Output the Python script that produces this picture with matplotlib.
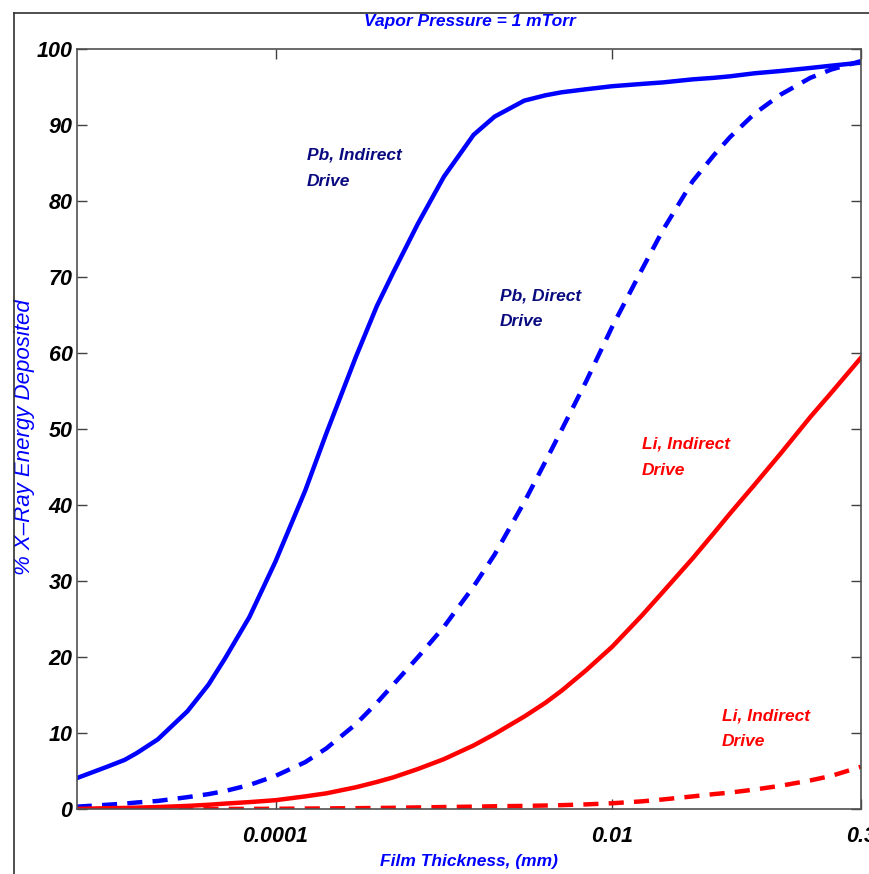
import matplotlib
matplotlib.use("Agg")
import matplotlib.pyplot as plt
from matplotlib.lines import Line2D
from matplotlib.ticker import NullLocator
from matplotlib import font_manager

plt.rcParams['font.family'] = ['Liberation Sans', 'DejaVu Sans']

# condensed face for the heading, if the system has it
names = {f.name for f in font_manager.fontManager.ttflist}
if 'Liberation Sans Narrow' in names:
    head_family, head_size = ['Liberation Sans Narrow', 'Liberation Sans'], 14.5
else:
    head_family, head_size = ['Liberation Sans', 'DejaVu Sans'], 12.5

# ---- data -------------------------------------------------------------
# film thickness (mm)
thickness = [6.6e-6, 1e-5, 1.27e-5, 1.5e-5, 2e-5, 3e-5, 4e-5, 5e-5, 7e-5,
             1e-4, 1.5e-4, 2e-4, 3e-4, 4e-4, 5e-4, 7e-4,
             1e-3, 1.5e-3, 2e-3, 3e-3, 4e-3, 5e-3, 7e-3,
             1e-2, 1.5e-2, 2e-2, 3e-2, 4e-2, 5e-2, 7e-2,
             0.1, 0.15, 0.2, 0.3]

# % of x-ray energy deposited in the film
pb_indirect = [4.1, 5.6, 6.5, 7.4, 9.2, 12.9, 16.4, 19.8, 25.3,
               32.6, 41.9, 49.4, 59.5, 66.2, 70.6, 77.0,
               83.2, 88.7, 91.1, 93.2, 93.9, 94.3, 94.7,
               95.1, 95.4, 95.6, 96.0, 96.2, 96.4, 96.8,
               97.1, 97.5, 97.8, 98.2]
pb_direct = [0.35, 0.6, 0.75, 0.9, 1.1, 1.6, 2.0, 2.4, 3.2,
             4.4, 6.2, 8.0, 11.2, 14.0, 16.4, 20.0,
             24.0, 29.3, 33.5, 40.4, 45.7, 49.9, 56.3,
             63.5, 71.0, 76.2, 82.6, 86.0, 88.4, 91.5,
             94.0, 96.2, 97.3, 98.4]
li_indirect = [0.05, 0.15, 0.18, 0.22, 0.3, 0.45, 0.6, 0.75, 0.95,
               1.2, 1.7, 2.1, 2.9, 3.6, 4.2, 5.3,
               6.6, 8.4, 9.9, 12.2, 14.0, 15.6, 18.3,
               21.4, 25.5, 28.6, 33.0, 36.3, 38.9, 42.7,
               46.8, 51.6, 54.8, 59.4]
li_dashed = [0.0, 0.0, 0.0, 0.01, 0.02, 0.03, 0.04, 0.05, 0.06,
             0.07, 0.1, 0.12, 0.15, 0.18, 0.2, 0.25,
             0.3, 0.35, 0.4, 0.45, 0.5, 0.55, 0.65,
             0.8, 1.05, 1.3, 1.7, 2.0, 2.2, 2.6,
             3.1, 3.8, 4.4, 5.6]

x_ticks = [1e-4, 1e-2, 0.3]
x_tick_labels = ["0.0001", "0.01", "0.3"]
y_ticks = list(range(0, 101, 10))

# ---- figure -----------------------------------------------------------
fig = plt.figure(figsize=(8.7, 8.74), dpi=100)
ax = fig.add_axes([0.0882, 0.074, 0.9015, 0.8700])

dash = (3.4, 2.3)
ax.plot(thickness, pb_indirect, color='#0000ff', lw=3.2, solid_joinstyle='round')
ax.plot(thickness, pb_direct, color='#0000ff', lw=3.2, dashes=dash)
ax.plot(thickness, li_indirect, color='#ff0000', lw=3.2, solid_joinstyle='round')
ax.plot(thickness, li_dashed, color='#ff0000', lw=3.2, dashes=dash)

ax.set_xscale('log')
ax.set_xlim(6.6e-6, 0.3)
ax.set_ylim(0, 100)
ax.set_xticks(x_ticks)
ax.set_xticklabels(x_tick_labels)
ax.xaxis.set_minor_locator(NullLocator())
ax.set_yticks(y_ticks)

for lab in ax.get_xticklabels() + ax.get_yticklabels():
    lab.set_fontsize(15.5)
    lab.set_fontweight('bold')
    lab.set_fontstyle('italic')

ax.tick_params(direction='in', length=7, width=1.0, color='#404040',
               top=True, right=True)
ax.tick_params(axis='x', pad=12)
ax.tick_params(axis='y', pad=3)
for sp in ax.spines.values():
    sp.set_color('#505050')
    sp.set_linewidth(1.2)

ax.set_xlabel("Film Thickness, (mm)", color='#0000ff', fontsize=head_size,
              family=head_family, fontweight='bold', fontstyle='italic', labelpad=5)
ax.set_ylabel("% X\u2013Ray Energy Deposited", color='#0000ff', fontsize=16,
              fontstyle='italic')
ax.yaxis.set_label_coords(-0.053, 0.49)
fig.text(0.54, 0.975, "Vapor Pressure = 1 mTorr", color='#0000ff', fontsize=head_size,
         family=head_family, fontweight='bold', fontstyle='italic',
         ha='center', va='center')

# curve annotations
note = dict(fontsize=12.5, fontweight='bold', fontstyle='italic',
            va='top', ha='left', linespacing=1.9)
ax.text(1.53e-4, 87.0, "Pb, Indirect\nDrive", color='#0a0a80', **note)
ax.text(2.15e-3, 68.5, "Pb, Direct\nDrive", color='#0a0a80', **note)
ax.text(1.50e-2, 49.0, "Li, Indirect\nDrive", color='#ff0000', **note)
ax.text(4.47e-2, 13.3, "Li, Indirect\nDrive", color='#ff0000', **note)

# outer frame
fx = 14.3 / 870
fy = 1 - 13.3 / 874
fig.add_artist(Line2D([fx, fx], [0, fy], transform=fig.transFigure, color='#303030', lw=1.2))
fig.add_artist(Line2D([fx, 1], [fy, fy], transform=fig.transFigure, color='#303030', lw=1.2))

fig.savefig("out.png", dpi=100)
